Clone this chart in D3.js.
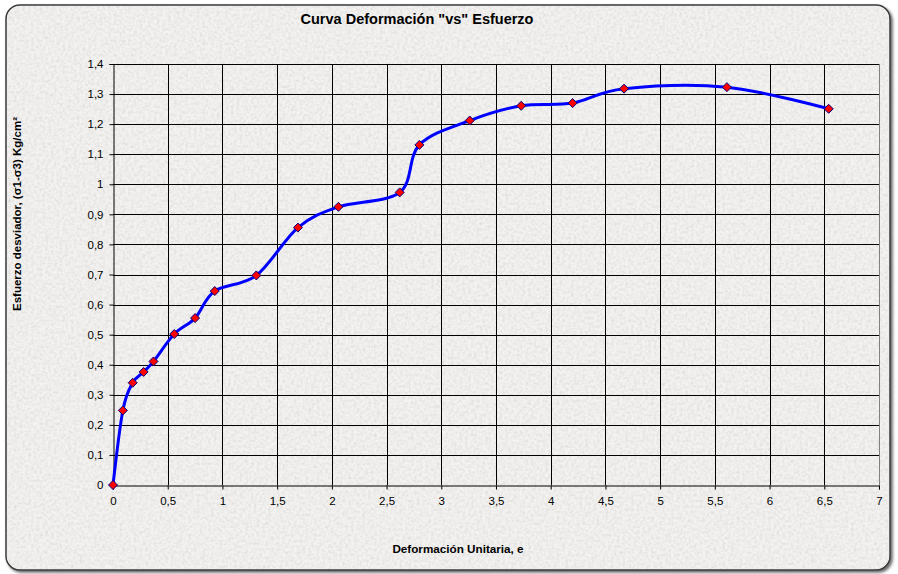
<!DOCTYPE html>
<html>
<head>
<meta charset="utf-8">
<title>Curva Deformación vs Esfuerzo</title>
<script src="https://d3js.org/d3.v7.min.js"></script>
<style>
body { margin: 0; background: #ffffff; }
text { font-family: "Liberation Sans", Arial, sans-serif; fill: #000; }
</style>
</head>
<body>
<div id="chart"></div>
<script>
// data
var deformacion = [0, 0.09, 0.18, 0.28, 0.37, 0.56, 0.75, 0.93, 1.31, 1.69, 2.06, 2.62, 2.80, 3.26, 3.73, 4.20, 4.67, 5.61, 6.54];
var esfuerzo    = [0, 0.248, 0.340, 0.376, 0.411, 0.502, 0.555, 0.645, 0.697, 0.856, 0.925, 0.973, 1.131, 1.212, 1.261, 1.270, 1.318, 1.323, 1.251];
var xTicks = [0, 0.5, 1, 1.5, 2, 2.5, 3, 3.5, 4, 4.5, 5, 5.5, 6, 6.5, 7];
var yTicks = [0, 0.1, 0.2, 0.3, 0.4, 0.5, 0.6, 0.7, 0.8, 0.9, 1, 1.1, 1.2, 1.3, 1.4];

var W = 898, H = 574;
var margin = {top: 64, right: 19, bottom: 89, left: 113},
    width = W - margin.left - margin.right,
    height = H - margin.top - margin.bottom;

var svg = d3.select("#chart").append("svg")
    .attr("width", W)
    .attr("height", H);

// paper texture
var defs = svg.append("defs");
var f = defs.append("filter").attr("id", "paper")
    .attr("x", 0).attr("y", 0).attr("width", "100%").attr("height", "100%");
f.append("feTurbulence").attr("type", "fractalNoise").attr("baseFrequency", 0.35)
    .attr("numOctaves", 3).attr("seed", 4).attr("result", "noise");
f.append("feColorMatrix").attr("in", "noise").attr("type", "matrix")
    .attr("values", "0 0 0 0 0.55  0 0 0 0 0.55  0 0 0 0 0.53  0 0 0 -1.6 1.0")
    .attr("result", "spots");
f.append("feComponentTransfer").attr("in", "spots").attr("result", "spots2")
  .append("feFuncA").attr("type", "linear").attr("slope", 0.55).attr("intercept", 0);
f.append("feComposite").attr("in", "spots2").attr("in2", "SourceGraphic").attr("operator", "in").attr("result", "tex");
f.append("feMerge").selectAll("feMergeNode").data(["SourceGraphic", "tex"])
  .enter().append("feMergeNode").attr("in", function(d) { return d; });

var sh = defs.append("filter").attr("id", "shadow")
    .attr("x", "-5%").attr("y", "-5%").attr("width", "110%").attr("height", "110%");
sh.append("feDropShadow").attr("dx", 2).attr("dy", 2).attr("stdDeviation", 1.5)
    .attr("flood-color", "#000").attr("flood-opacity", 0.6);

// frame
svg.append("rect")
    .attr("x", 6).attr("y", 5).attr("width", 884).attr("height", 565)
    .attr("rx", 14).attr("ry", 14)
    .attr("fill", "#f3f2f0")
    .attr("stroke", "#3a3a3a").attr("stroke-width", 1.5)
    .attr("filter", "url(#shadow)");
svg.append("rect")
    .attr("x", 7).attr("y", 6).attr("width", 882).attr("height", 563)
    .attr("rx", 13).attr("ry", 13)
    .attr("fill", "#f3f2f0")
    .attr("filter", "url(#paper)");

var g = svg.append("g")
    .attr("transform", "translate(" + margin.left + "," + margin.top + ")");

var x = d3.scaleLinear().domain([0, 7]).range([0, width]);
var y = d3.scaleLinear().domain([0, 1.4]).range([height, 0]);
var fmt = function(d) { return String(+d.toFixed(1)).replace(".", ","); };

// grid
g.append("g").selectAll("line").data(yTicks.slice(1))
  .enter().append("line")
    .attr("x1", 0).attr("x2", width)
    .attr("y1", function(d) { return Math.round(y(d)) + 0.5; })
    .attr("y2", function(d) { return Math.round(y(d)) + 0.5; })
    .attr("stroke", "#000").attr("stroke-width", 1);
g.append("g").selectAll("line").data(xTicks.slice(1, -1))
  .enter().append("line")
    .attr("y1", 0).attr("y2", height)
    .attr("x1", function(d) { return Math.round(x(d)) + 0.5; })
    .attr("x2", function(d) { return Math.round(x(d)) + 0.5; })
    .attr("stroke", "#000").attr("stroke-width", 1);
g.append("line")
    .attr("x1", width + 0.5).attr("x2", width + 0.5).attr("y1", 0).attr("y2", height)
    .attr("stroke", "#808080");

// axes
var xAxis = g.append("g")
    .attr("transform", "translate(0," + (height + 0.5) + ")")
    .call(d3.axisBottom(x).tickValues(xTicks).tickFormat(fmt).tickSize(4).tickPadding(7));
var yAxis = g.append("g")
    .attr("transform", "translate(0.5,0)")
    .call(d3.axisLeft(y).tickValues(yTicks).tickFormat(fmt).tickSize(4).tickPadding(6));
[xAxis, yAxis].forEach(function(a) {
  a.select(".domain").attr("stroke", "#000");
  a.selectAll(".tick line").attr("stroke", "#000");
  a.selectAll("text").style("font-size", "11.5px").style("font-family", "'Liberation Sans', Arial, sans-serif");
});

// line
var pts = deformacion.map(function(d, i) { return [d, esfuerzo[i]]; });
var line = d3.line()
    .x(function(d) { return x(d[0]); })
    .y(function(d) { return y(d[1]); })
    .curve(d3.curveCardinal.tension(0));
g.append("path")
    .datum(pts)
    .attr("fill", "none")
    .attr("stroke", "#0000ff")
    .attr("stroke-width", 3)
    .attr("d", line);

// markers
g.selectAll(".pt").data(pts)
  .enter().append("path")
    .attr("class", "pt")
    .attr("transform", function(d) { return "translate(" + x(d[0]) + "," + y(d[1]) + ")"; })
    .attr("d", "M0,-4.5L4.5,0L0,4.5L-4.5,0Z")
    .attr("fill", "#ff0000")
    .attr("stroke", "#000080")
    .attr("stroke-width", 1);

// titles
svg.append("text")
    .attr("x", 417).attr("y", 24)
    .attr("text-anchor", "middle")
    .style("font-size", "14.5px").style("font-weight", "bold")
    .text("Curva Deformación \"vs\" Esfuerzo");
svg.append("text")
    .attr("x", 458).attr("y", 553)
    .attr("text-anchor", "middle")
    .style("font-size", "11.7px").style("font-weight", "bold")
    .text("Deformación Unitaria, e");
svg.append("text")
    .attr("transform", "translate(21,214) rotate(-90)")
    .attr("text-anchor", "middle")
    .style("font-size", "11.5px").style("font-weight", "bold")
    .text("Esfuerzo desviador, (σ1-σ3) Kg/cm²");
</script>
</body>
</html>
